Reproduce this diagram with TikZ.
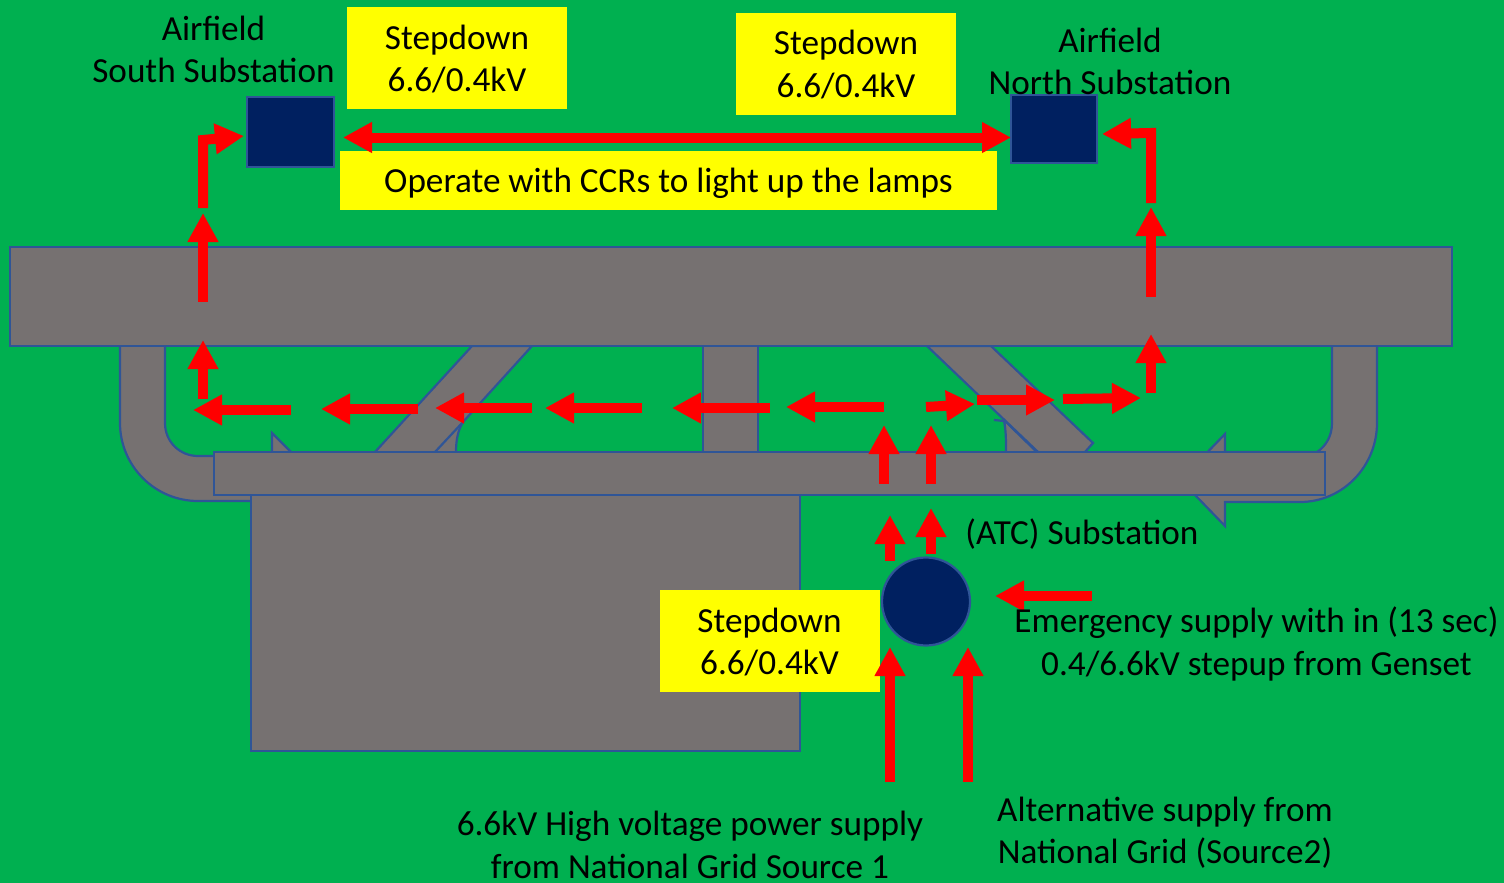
\documentclass[tikz,border=0pt]{standalone}
\usepackage{fontspec}
\setmainfont{Carlito}
\usetikzlibrary{arrows.meta}
\definecolor{bggreen}{HTML}{00B050}
\definecolor{slab}{HTML}{767171}
\definecolor{edge}{HTML}{2F5597}
\definecolor{navy}{HTML}{002060}
\definecolor{flowred}{HTML}{FF0000}
\definecolor{note}{HTML}{FFFF00}
\tikzset{
  x=1pt,y=-1pt,
  slabshape/.style={fill=slab,draw=edge,line width=2.2pt,line join=miter,outer sep=0pt},
  slabline/.style={draw=edge,line width=2.2pt},
  subst/.style={fill=navy,draw=edge,line width=2.2pt,outer sep=0pt},
  flowline/.style={draw=flowred,line width=10pt,line join=miter,-{Triangle[length=29pt,width=29pt,flowred]}},
  flowboth/.style={draw=flowred,line width=10pt,{Triangle[length=29pt,width=29pt,flowred]}-{Triangle[length=29pt,width=29pt,flowred]}},
  label/.style={text=black,font=\fontsize{35.2}{42.5}\selectfont,align=center,inner sep=0pt,outer sep=0pt},
  notebox/.style={fill=note,minimum width=220pt,minimum height=102pt,inner sep=0pt,outer sep=0pt},
}
\newcommand{\flowarrow}[3]{%
  \coordinate (#1-s) at (#2);
  \coordinate (#1-e) at (#3);
  \draw[flowline] (#1-s) -- (#1-e);
}
\begin{document}
\begin{tikzpicture}
\useasboundingbox (0,0) rectangle (1504,883);
\fill[bggreen] (0,0) rectangle (1504,883);

% left U-turn road
\path[slabshape] (165,340) -- (165,423) .. controls (165,442) and (180,456) .. (198,456)
  -- (260,456) -- (260,501) -- (198,501)
  .. controls (155,501) and (120,466) .. (120,423) -- (120,340) -- cycle;
\path[slabshape] (272,460) -- (272,433) -- (291,452) -- (291,460) -- cycle;
% left diagonal road
\path[slabshape] (472,346) -- (375,452) -- (375,460) -- (456,460) -- (456,452)
  .. controls (456,440) and (458,430) .. (463,422) -- (532,346) -- cycle;
\draw[slabline] (435,452) -- (463,422);
% centre road
\path[slabshape] (703,340) rectangle (758,460);
% right diagonal road
\path[slabshape] (994,420) -- (1004,421) .. controls (1006,430) and (1006,440) .. (1006,452)
  -- (1006,460) -- (1045,460) -- (1005,421) -- cycle;
\path[slabshape] (927,346) -- (1038,452) -- (1038,460) -- (1085,460) -- (1085,452)
  -- (1093,443) -- (991,346) -- cycle;
% right U-turn road
\path[slabshape] (1332,340) -- (1332,423) .. controls (1332,436) and (1326,446) .. (1317,452)
  -- (1225,452) -- (1225,434) -- (1195,465) -- (1195,495) -- (1225,526) -- (1225,502) -- (1300,502)
  .. controls (1343,502) and (1377,466) .. (1377,423) -- (1377,340) -- cycle;

% terminal block, apron, runway
\node[slabshape,anchor=north west,minimum width=549pt,minimum height=256pt,inner sep=0pt] (block) at (251,495) {};
\node[slabshape,anchor=north west,minimum width=1111pt,minimum height=43pt,inner sep=0pt] (apron) at (214,452) {};
\node[slabshape,anchor=north west,minimum width=1442pt,minimum height=99pt,inner sep=0pt] (runway) at (10,247) {};

% substations
\node[subst,anchor=north west,minimum width=87pt,minimum height=70pt,inner sep=0pt] (south) at (247,97) {};
\node[subst,anchor=north west,minimum width=86pt,minimum height=68pt,inner sep=0pt] (north) at (1011,95) {};
\node[subst,circle,minimum size=88pt,inner sep=0pt] (atc) at (926,601.5) {};

% yellow notes
\node[notebox] (noteA) at (457,58) {};
\node[notebox] (noteB) at (846,64) {};
\node[notebox] (noteC) at (770,641) {};
\node[fill=note,minimum width=657pt,minimum height=59pt,inner sep=0pt,outer sep=0pt] (noteD) at (668.5,180.5) {};
\node[label] (noteAt) at (457,59) {Stepdown\\6.6/0.4kV};
\node[label] (noteBt) at (846,64.5) {Stepdown\\6.6/0.4kV};
\node[label] (noteCt) at (769.5,642) {Stepdown\\6.6/0.4kV};
\node[label] (noteDt) at (668.5,183) {Operate with CCRs to light up the lamps};

% flow arrows
\coordinate (dbl-s) at (343,137.5);
\coordinate (dbl-e) at (1011,137.5);
\draw[flowboth] (dbl-s) -- (dbl-e);

\coordinate (elbL-a) at (203,208);
\coordinate (elbL-b) at (203,140);
\coordinate (elbL-c) at (244,136);
\draw[flowline] (elbL-a) -- (elbL-b) -- (elbL-c);
\coordinate (elbR-a) at (1151,203);
\coordinate (elbR-b) at (1151,133);
\coordinate (elbR-c) at (1102,134);
\draw[flowline] (elbR-a) -- (elbR-b) -- (elbR-c);

\flowarrow{upA}{203,302}{203,213}
\flowarrow{upB}{203,399}{203,340}
\flowarrow{lA}{291,410}{193,410}
\flowarrow{lB}{418,409}{321,409}
\flowarrow{lC}{532,408}{435,408}
\flowarrow{lD}{642,408}{545,408}
\flowarrow{lE}{770,408}{672,408}
\flowarrow{lF}{884,407}{786,407}
\flowarrow{rA}{926,407}{975,404}
\flowarrow{rB}{977,400}{1055,400}
\flowarrow{rC}{1063,399}{1141,398}
\flowarrow{upC}{1151,393}{1151,334}
\flowarrow{upD}{1151,297}{1151,207}
\flowarrow{upE}{884,484}{884,425}
\flowarrow{upF}{931,484}{931,425}
\flowarrow{upG}{890,561}{890,515}
\flowarrow{upH}{931,554}{931,508}
\flowarrow{em}{1092,596}{995,596}
\flowarrow{srcA}{890,782}{890,647}
\flowarrow{srcB}{968,782}{968,647}

% labels
\node[label] (lblS) at (213.5,49.5) {Airfield\\South Substation};
\node[label] (lblN) at (1110,61.5) {Airfield\\North Substation};
\node[label] (lblA) at (1082,534) {(ATC) Substation};
\node[label] (lblE) at (1256.5,644) {Emergency supply with in (13 sec)\\0.4/6.6kV stepup from Genset};
\node[label] (lblG) at (690,845) {6.6kV High voltage power supply\\from National Grid Source 1};
\node[label] (lblT) at (1165,832.5) {Alternative supply from\\National Grid (Source2)};
\end{tikzpicture}
\end{document}
